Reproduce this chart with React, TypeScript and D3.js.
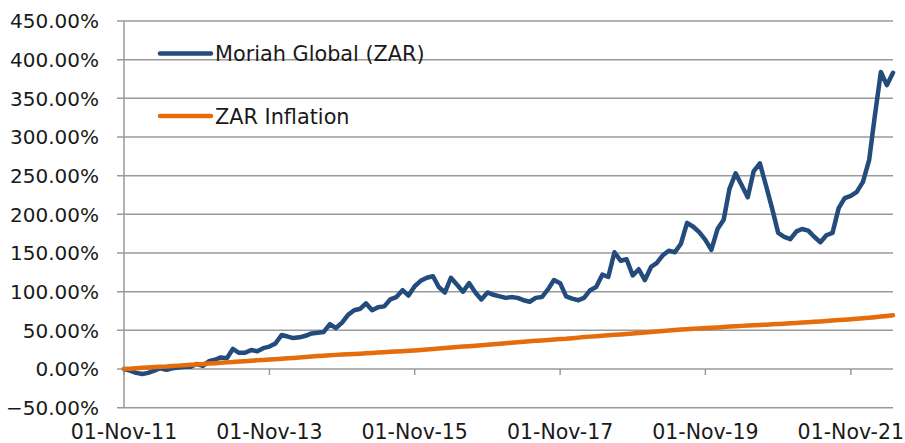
import { useEffect, useRef } from "react";
import * as d3 from "d3";

// monthly cumulative returns (%), Nov-2011 onwards
const moriah = [
  0, -2, -5, -6.5, -5, -2, 1, -1, 1, 2, 3, 3,
  6.5, 4, 10, 12, 15, 14, 26, 21, 21, 24.5, 23, 27,
  29, 33, 44, 42, 40, 41, 43, 46, 47, 48, 58, 53,
  60, 70, 76, 78, 85, 76, 80, 81, 90, 93, 102, 95,
  107, 114, 118, 120, 106, 99, 118, 109, 100, 111, 99, 90,
  99, 96, 94, 92, 93, 92, 89, 87, 92, 93, 103, 115,
  111, 94, 91, 89, 92, 102, 106, 122, 119, 151, 140, 142,
  121, 129, 115, 132, 137, 147, 153, 151, 162, 189, 184, 177,
  167, 154, 181, 193, 233, 253, 238, 222, 256, 266, 237, 208,
  176, 171, 168, 178, 181, 179, 171, 164, 173, 176, 208, 221,
  224, 229, 242, 270, 326, 384, 367, 383,
];

const inflation = [
  0, 0.5, 1.0, 1.6, 2.1, 2.6, 3.0, 3.3, 3.8, 4.4, 5.0, 5.5,
  6.0, 6.4, 7.0, 7.5, 8.0, 8.6, 9.1, 9.6, 10.2, 10.8, 11.3, 11.8,
  12.3, 12.7, 13.2, 13.8, 14.4, 15.0, 15.6, 16.1, 16.7, 17.2, 17.8, 18.3,
  18.7, 19.0, 19.4, 19.8, 20.3, 20.8, 21.3, 21.8, 22.3, 22.7, 23.1, 23.5,
  24.0, 24.5, 25.1, 25.8, 26.5, 27.2, 27.9, 28.5, 29.1, 29.6, 30.2, 30.8,
  31.4, 32.0, 32.7, 33.4, 34.1, 34.7, 35.3, 35.9, 36.5, 37.0, 37.6, 38.2,
  38.7, 39.2, 39.9, 40.6, 41.3, 41.9, 42.5, 43.1, 43.7, 44.2, 44.8, 45.4,
  46.0, 46.5, 47.2, 47.9, 48.6, 49.2, 49.8, 50.4, 51.0, 51.5, 52.0, 52.5,
  53.0, 53.4, 53.8, 54.3, 54.9, 55.4, 55.8, 56.2, 56.6, 57.0, 57.4, 57.8,
  58.2, 58.6, 59.1, 59.6, 60.1, 60.6, 61.1, 61.6, 62.2, 62.8, 63.3, 63.8,
  64.4, 65.0, 65.6, 66.3, 67.0, 67.8, 68.6, 69.4,
];

const yTicks = [-50, 0, 50, 100, 150, 200, 250, 300, 350, 400, 450];
const xTickLabels = ["01-Nov-11", "01-Nov-13", "01-Nov-15", "01-Nov-17", "01-Nov-19", "01-Nov-21"];
const seriesNames = ["Moriah Global (ZAR)", "ZAR Inflation"];
const colors = ["#234b7c", "#e46c0a"];

const W = 905;
const H = 443;
const FONT = "DejaVu Sans, sans-serif";

const App = () => {
  const svgRef = useRef<SVGSVGElement>(null);

  useEffect(() => {
    const svg = d3.select(svgRef.current);
    svg.selectAll("*").remove();

    const start = new Date(2011, 10, 1);
    const dates = moriah.map((_, i) => d3.timeMonth.offset(start, i));
    const tickDates = xTickLabels.map((_, i) => d3.timeMonth.offset(start, i * 24));

    const x = d3
      .scaleTime()
      .domain([dates[0], dates[dates.length - 1]])
      .range([124, 893]);
    const y = d3.scaleLinear().domain([-50, 450]).range([407.7, 21]);

    // gridlines
    svg
      .append("g")
      .selectAll("line")
      .data(yTicks)
      .join("line")
      .attr("x1", 117)
      .attr("x2", 893)
      .attr("y1", (d) => y(d))
      .attr("y2", (d) => y(d))
      .attr("stroke", "#9a9a9a")
      .attr("stroke-width", 1.5);

    // y axis
    svg
      .append("line")
      .attr("x1", 124)
      .attr("x2", 124)
      .attr("y1", y(450))
      .attr("y2", y(-50))
      .attr("stroke", "#9a9a9a")
      .attr("stroke-width", 1.5);

    svg
      .append("g")
      .selectAll("text")
      .data(yTicks)
      .join("text")
      .attr("x", 99)
      .attr("y", (d) => y(d))
      .attr("dy", "0.36em")
      .attr("text-anchor", "end")
      .attr("font-family", FONT)
      .attr("font-size", 20)
      .attr("fill", "#1a1a1a")
      .text((d) => d3.format(".2f")(d) + "%");

    // x ticks on the zero line
    svg
      .append("g")
      .selectAll("line")
      .data(tickDates)
      .join("line")
      .attr("x1", (d) => x(d))
      .attr("x2", (d) => x(d))
      .attr("y1", y(0))
      .attr("y2", y(0) + 6)
      .attr("stroke", "#9a9a9a")
      .attr("stroke-width", 1.5);

    svg
      .append("g")
      .selectAll("text")
      .data(tickDates)
      .join("text")
      .attr("x", (d) => x(d))
      .attr("y", 439)
      .attr("text-anchor", "middle")
      .attr("font-family", FONT)
      .attr("font-size", 20.5)
      .attr("fill", "#1a1a1a")
      .text((_, i) => xTickLabels[i]);

    // series
    const line = d3
      .line<number>()
      .x((_, i) => x(dates[i]))
      .y((d) => y(d));

    [moriah, inflation].forEach((s, k) => {
      svg
        .append("path")
        .datum(s)
        .attr("d", line)
        .attr("fill", "none")
        .attr("stroke", colors[k])
        .attr("stroke-width", 4.5)
        .attr("stroke-linejoin", "round")
        .attr("stroke-linecap", "round");
    });

    // legend
    const legend = svg
      .append("g")
      .selectAll("g")
      .data(seriesNames)
      .join("g")
      .attr("transform", (_, i) => `translate(0,${53.5 + i * 62.5})`);

    legend
      .append("line")
      .attr("x1", 160)
      .attr("x2", 211)
      .attr("stroke", (_, i) => colors[i])
      .attr("stroke-width", 4.5)
      .attr("stroke-linecap", "round");

    legend
      .append("text")
      .attr("x", 215)
      .attr("dy", "0.36em")
      .attr("font-family", FONT)
      .attr("font-size", 20.8)
      .attr("fill", "#1a1a1a")
      .text((d) => d);
  }, []);

  return (
    <svg
      ref={svgRef}
      width={W}
      height={H}
      style={{ position: "absolute", left: 0, top: 0, background: "#fff" }}
    />
  );
};

export default App;
